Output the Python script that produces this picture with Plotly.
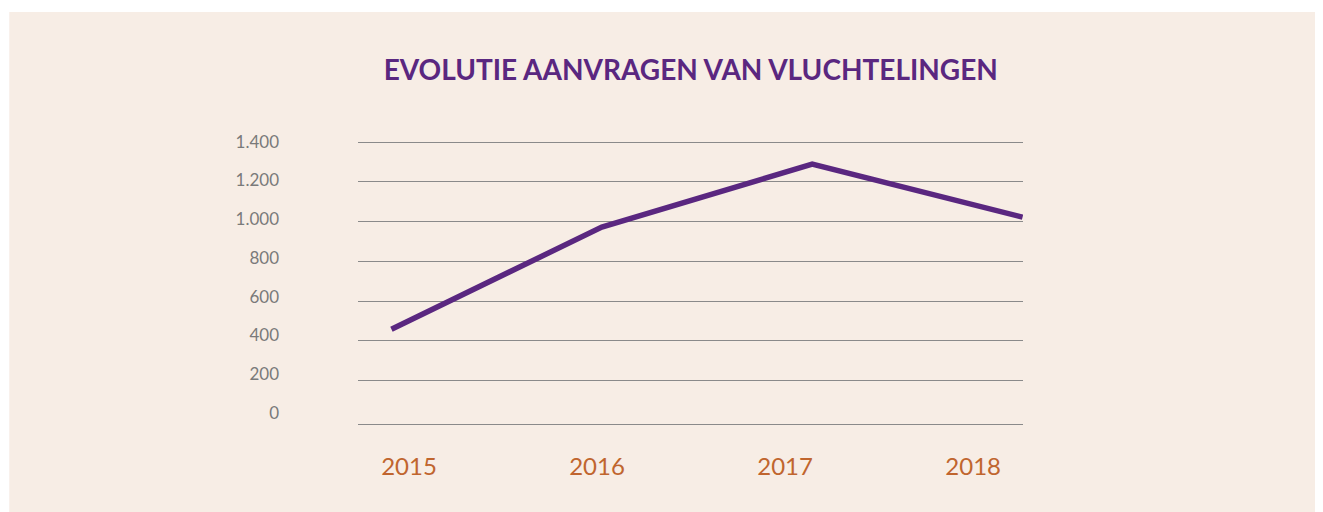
import plotly.graph_objects as go

# Data
years = ["2015", "2016", "2017", "2018"]
aanvragen = [458, 973, 1290, 1023]
y_ticks = [0, 200, 400, 600, 800, 1000, 1200, 1400]
y_tick_labels = ["0", "200", "400", "600", "800", "1.000", "1.200", "1.400"]
grid_values = [200, 400, 600, 800, 1000, 1200, 1400]
title_text = "EVOLUTIE AANVRAGEN VAN VLUCHTELINGEN"

BG = "#f7ede5"
PURPLE = "#5a2780"
ORANGE = "#c0652e"
GRAY = "#7a7a7a"

# page offset of the plot div (default body margin)
OFF = 8
W, H = 1323, 512
# plot area in page pixels: x 358..1023.5, y 130..424
L = 358 - OFF
T = 130 - OFF
R = (W + OFF) - 1023.5
B = (H + OFF) - 424
PW = W - L - R
PH = H - T - B

idx = list(range(len(years)))

fig = go.Figure()

fig.add_trace(go.Scatter(
    x=idx, y=aanvragen, mode="lines",
    line=dict(color=PURPLE, width=5.5),
    xaxis="x", yaxis="y", showlegend=False, hoverinfo="x+y",
))

fig.add_trace(go.Scatter(
    x=idx, y=y_ticks[:len(idx)], mode="markers",
    marker=dict(opacity=0), xaxis="x2", yaxis="y2",
    showlegend=False, hoverinfo="skip",
))

fig.update_layout(
    width=W, height=H,
    margin=dict(l=L, r=R, t=T, b=B),
    paper_bgcolor="white",
    plot_bgcolor=BG,
    font=dict(family="Lato, sans-serif"),
    title=dict(
        text=title_text,
        x=(L + L + PW) / 2 / W, xanchor="center",
        y=1 - (70 - OFF) / H, yanchor="middle",
        font=dict(family="Lato, sans-serif", size=28, color=PURPLE, weight="bold"),
    ),
    xaxis=dict(
        range=[-0.159, 3.002], showgrid=False, zeroline=False,
        showticklabels=False, showline=False, fixedrange=True,
    ),
    yaxis=dict(
        range=[-19.1, 1461.9], tickvals=grid_values, showticklabels=False,
        showgrid=True, gridcolor="#8a8a8a", gridwidth=1.2, zeroline=False,
        showline=False, fixedrange=True,
    ),
    xaxis2=dict(
        overlaying="x", side="bottom", anchor="y",
        range=[-0.271, 3.265], tickvals=idx, ticktext=years,
        showgrid=False, zeroline=False, showline=True,
        linecolor="#8a8a8a", linewidth=1.2, ticks="",
        tickfont=dict(family="Lato, sans-serif", size=24, color=ORANGE),
        ticklabelstandoff=21,
    ),
    yaxis2=dict(
        overlaying="y", side="left", anchor="x",
        range=[-58.4, 1461.0], tickvals=y_ticks, ticktext=y_tick_labels,
        showgrid=False, zeroline=False, showline=False, ticks="",
        tickfont=dict(family="Lato, sans-serif", size=17, color=GRAY),
        ticklabelstandoff=78,
    ),
    shapes=[dict(
        type="rect", xref="paper", yref="paper", layer="below",
        x0=-(L - (9 - OFF)) / PW, x1=1 + R / PW,
        y0=-B / PH, y1=1 + (T - (12 - OFF)) / PH,
        fillcolor=BG, line=dict(width=0),
    )],
)

fig.write_html("out.html")
